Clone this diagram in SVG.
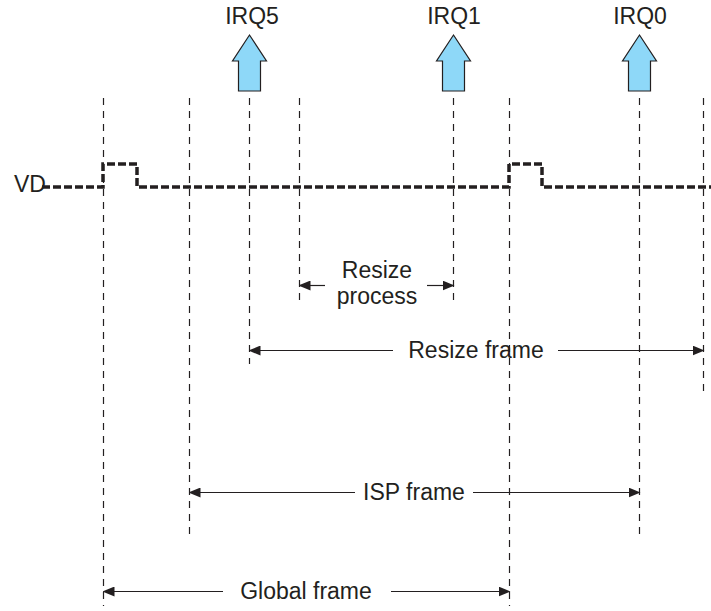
<svg xmlns="http://www.w3.org/2000/svg" width="711" height="611" viewBox="0 0 711 611">
<defs>
<marker id="ah" markerWidth="12" markerHeight="10" refX="11" refY="5" orient="auto-start-reverse" markerUnits="userSpaceOnUse">
<path d="M0,0 L12,5 L0,10 Z" fill="#231f20"/>
</marker>
<path id="irq" d="M0,0 L17,26 L11,26 L11,56 L-11,56 L-11,26 L-17,26 Z"/>
</defs>
<style>
text{font-family:"Liberation Sans",Arial,sans-serif;font-size:23px;fill:#231f20;text-anchor:middle}
.v{stroke:#231f20;stroke-width:1.2;stroke-dasharray:7 6;fill:none}
.a{stroke:#231f20;stroke-width:1.2;fill:none}
.sig{stroke:#231f20;stroke-width:3.5;stroke-dasharray:8 3;fill:none}
.irq{fill:#8ed8f8;stroke:#231f20;stroke-width:1.2;stroke-linejoin:miter}
</style>
<rect width="711" height="611" fill="#fff"/>
<g id="gridlines">
<line class="v" x1="103.5" y1="98" x2="103.5" y2="606"/>
<line class="v" x1="189.5" y1="98" x2="189.5" y2="538"/>
<line class="v" x1="249.5" y1="98" x2="249.5" y2="364"/>
<line class="v" x1="299.5" y1="98" x2="299.5" y2="300"/>
<line class="v" x1="453.5" y1="98" x2="453.5" y2="306"/>
<line class="v" x1="509.5" y1="98" x2="509.5" y2="606"/>
<line class="v" x1="639.5" y1="98" x2="639.5" y2="538"/>
<line class="v" x1="703.5" y1="98" x2="703.5" y2="394"/>
</g>
<g id="irq5"><use href="#irq" x="249.5" y="35" class="irq"/><text x="252" y="24">IRQ5</text></g>
<g id="irq1"><use href="#irq" x="453.5" y="35" class="irq"/><text x="454" y="24">IRQ1</text></g>
<g id="irq0"><use href="#irq" x="639.5" y="35" class="irq"/><text x="640" y="24">IRQ0</text></g>
<g id="vd">
<text x="30" y="192">VD</text>
<path class="sig" d="M42,187 L103,187 L103,164 L137,164 L137,187 L509,187 L509,164 L542,164 L542,187 L711,187"/>
</g>
<g id="connectors">
<line class="a" x1="299.5" y1="285.5" x2="325" y2="285.5" marker-start="url(#ah)"/>
<line class="a" x1="427" y1="285.5" x2="453.5" y2="285.5" marker-end="url(#ah)"/>
<line class="a" x1="249.5" y1="350.5" x2="393" y2="350.5" marker-start="url(#ah)"/>
<line class="a" x1="558" y1="350.5" x2="703.5" y2="350.5" marker-end="url(#ah)"/>
<line class="a" x1="189.5" y1="492.5" x2="355" y2="492.5" marker-start="url(#ah)"/>
<line class="a" x1="473" y1="492.5" x2="639.5" y2="492.5" marker-end="url(#ah)"/>
<line class="a" x1="103.5" y1="591.5" x2="223" y2="591.5" marker-start="url(#ah)"/>
<line class="a" x1="391" y1="591.5" x2="509.5" y2="591.5" marker-end="url(#ah)"/>
</g>
<g id="resize-process"><text x="377" y="278">Resize</text><text x="377" y="304">process</text></g>
<g id="resize-frame"><text x="476" y="358">Resize frame</text></g>
<g id="isp-frame"><text x="414" y="500">ISP frame</text></g>
<g id="global-frame"><text x="306" y="599">Global frame</text></g>
</svg>
